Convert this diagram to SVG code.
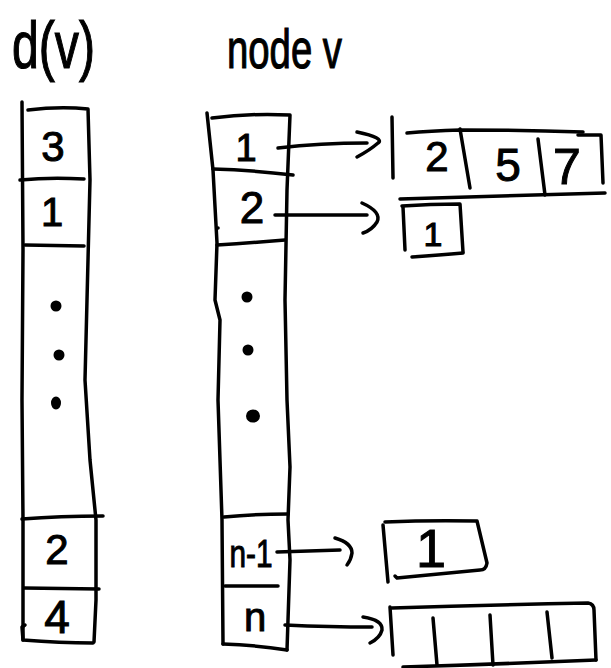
<svg xmlns="http://www.w3.org/2000/svg" width="611" height="668" viewBox="0 0 611 668">
<style>
  .ln { fill: none; stroke: #000; stroke-width: 3.5; stroke-linecap: round; stroke-linejoin: round; }
  .tx { font-family: "Liberation Sans", Arial, sans-serif; fill: #000; stroke: #000; stroke-width: 1; text-anchor: middle; }
  .ttl { font-family: "Liberation Sans", Arial, sans-serif; fill: #000; stroke: #000; stroke-width: 1.2; }
  .dot { fill: #000; stroke: #000; stroke-width: 2; }
</style>
<rect width="611" height="668" fill="#fff"/>

<g id="title-d">
  <text class="ttl" x="12" y="68" font-size="66" textLength="83" lengthAdjust="spacingAndGlyphs">d(v)</text>
</g>
<g id="title-node">
  <text class="ttl" x="227" y="68" font-size="56" textLength="115" lengthAdjust="spacingAndGlyphs">node v</text>
</g>

<g id="d-column">
  <path class="ln" d="M22,102 L23,250 L22,400 L23,520 L23,640"/>
  <path class="ln" d="M28,110 Q60,106 88,109 L90,180 L87,300 L85,380 L90,460 L96,520 L96,600 L94,642"/>
  <path class="ln" d="M20,180 Q50,177 84,179"/>
  <path class="ln" d="M25,245 L84,246"/>
  <path class="ln" d="M22,519 Q60,516 103,516"/>
  <path class="ln" d="M24,588 L99,589"/>
  <path class="ln" d="M25,625 L22,627 L23,640 Q60,643 93,643"/>
  <circle class="dot" cx="56" cy="306" r="4.5"/>
  <circle class="dot" cx="59" cy="355" r="4.5"/>
  <ellipse class="dot" cx="56" cy="403" rx="4" ry="5.5"/>
  <text class="tx" x="53" y="161" font-size="42">3</text>
  <text class="tx" x="52" y="226" font-size="40">1</text>
  <text class="tx" x="57" y="564" font-size="42">2</text>
  <text class="tx" x="57" y="633" font-size="46">4</text>
</g>

<g id="node-column">
  <path class="ln" d="M207,113 L213,170 L217,243 L215,300 L220,320 L218,400 L222,520 L223,644"/>
  <path class="ln" d="M212,118 Q250,113 290,115 L287,190 L285,300 L287,400 L290,467 L288,520 L290,560 L287,650"/>
  <path class="ln" d="M213,169 Q250,170 293,175"/>
  <path class="ln" d="M217,245 Q250,243 285,240"/>
  <path class="ln" d="M224,517 Q255,514 288,514"/>
  <path class="ln" d="M225,586 L278,586"/>
  <path class="ln" d="M223,644 Q255,645 287,650"/>
  <circle cx="218" cy="228" r="1.8" fill="#000"/>
  <circle class="dot" cx="247" cy="297" r="4.5"/>
  <circle class="dot" cx="248" cy="350" r="4.5"/>
  <ellipse class="dot" cx="253" cy="416" rx="6" ry="5.5"/>
  <text class="tx" x="246" y="161" font-size="38">1</text>
  <text class="tx" x="252" y="223" font-size="44">2</text>
  <text class="tx" x="251" y="567" font-size="38" textLength="43" lengthAdjust="spacingAndGlyphs">n-1</text>
  <text class="tx" x="255" y="631" font-size="40">n</text>
</g>

<g id="connectors">
  <path class="ln" d="M278,148 Q320,143 367,143"/>
  <path class="ln" d="M357,132 Q385,138 378,143 Q370,150 357,157"/>
  <path class="ln" d="M275,215 L367,215"/>
  <path class="ln" d="M362,203 Q382,212 377,222 Q372,230 363,233"/>
  <path class="ln" d="M277,552 Q310,551 340,550"/>
  <path class="ln" d="M335,538 Q352,543 352,553 Q351,560 347,565"/>
  <path class="ln" d="M285,625 Q330,627 372,627"/>
  <path class="ln" d="M363,617 Q383,620 382,630 Q380,638 370,643"/>
</g>

<g id="list-1">
  <path class="ln" d="M392,117 L393,178"/>
  <path class="ln" d="M407,133 Q430,131 460,130 Q520,130 583,132"/>
  <path class="ln" d="M578,135 L601,135 L603,183"/>
  <path class="ln" d="M460,129 L470,188"/>
  <path class="ln" d="M538,139 L545,195"/>
  <path class="ln" d="M400,199 Q500,196 605,193"/>
  <text class="tx" x="437" y="171" font-size="42">2</text>
  <text class="tx" x="508" y="181" font-size="46">5</text>
  <text class="tx" x="567" y="184" font-size="50">7</text>
</g>

<g id="list-2">
  <path class="ln" d="M403,207 L405,250"/>
  <path class="ln" d="M402,206 Q430,204 460,204 L463,252"/>
  <path class="ln" d="M412,257 Q440,255 463,253"/>
  <text class="tx" x="433" y="246" font-size="34">1</text>
</g>

<g id="list-n1">
  <path class="ln" d="M383,525 L388,582"/>
  <path class="ln" d="M385,522 Q430,520 477,521 L487,563 Q486,570 480,570 L397,578 L395,576"/>
  <text class="tx" x="431" y="567" font-size="54">1</text>
</g>

<g id="list-n">
  <path class="ln" d="M390,607 L393,655"/>
  <path class="ln" d="M392,608 Q490,605 588,603 Q594,604 594,610 L596,660"/>
  <path class="ln" d="M403,667 Q500,664 596,660"/>
  <path class="ln" d="M433,618 L437,665"/>
  <path class="ln" d="M490,615 L493,665"/>
  <path class="ln" d="M547,612 L552,658"/>
</g>
</svg>
